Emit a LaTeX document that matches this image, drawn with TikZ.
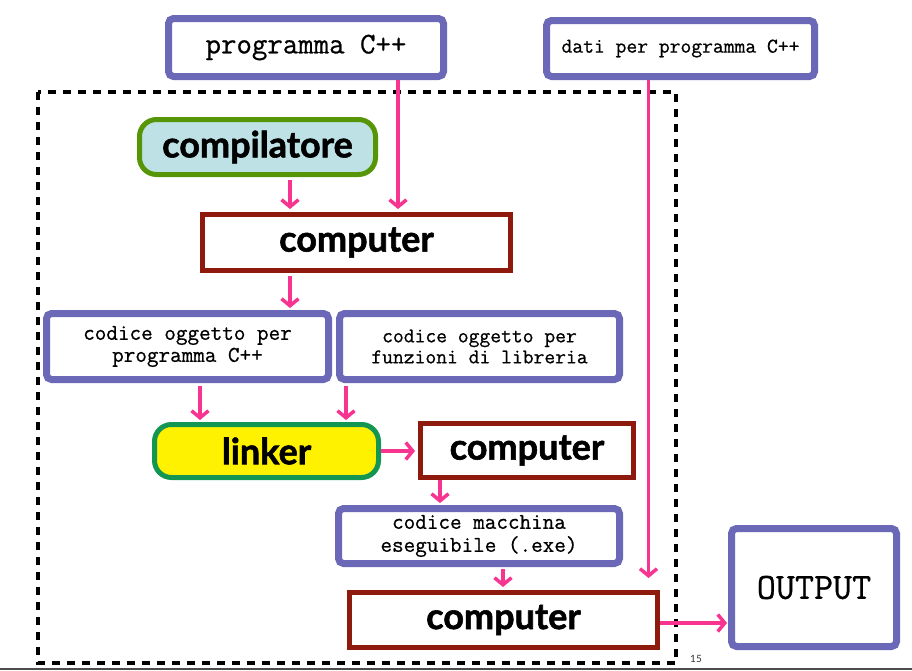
\documentclass[tikz,border=0pt]{standalone}
\usepackage{fontspec}
\usepackage{tikz}
\usetikzlibrary{arrows.meta}
\newfontfamily\boxsans{Lato}[BoldFeatures={FakeBold=1.6}]
\newfontfamily\boxmono{Latin Modern Mono}[FakeBold=0.7]

\definecolor{srcpurple}{RGB}{107,104,184}
\definecolor{compred}{RGB}{142,26,14}
\definecolor{flowpink}{RGB}{247,52,143}
\definecolor{compgreen}{RGB}{86,150,6}
\definecolor{compfill}{RGB}{189,225,229}
\definecolor{linkgreen}{RGB}{18,150,82}

\begin{document}
\begin{tikzpicture}[x=1pt, y=-1pt,
    srcbox/.style={draw=srcpurple, line width=7pt, rounded corners=5pt, fill=white, align=center, inner sep=0pt},
    compbox/.style={draw=compred, line width=5pt, fill=white, inner sep=0pt, font=\boxsans\bfseries\fontsize{36}{36}\selectfont},
    toolbox/.style={line width=5pt, rounded corners=17pt, inner sep=0pt, font=\boxsans\bfseries\fontsize{36}{36}\selectfont},
    flow/.style={draw=flowpink, line width=3.5pt, -{Straight Barb[length=7pt, width=17pt]}}]

        \useasboundingbox (0,0) rectangle (912,670);

        % Dashed frame round the translation steps
        \draw[line width=4pt, dash pattern=on 8pt off 7pt] (38,92) rectangle (676,663);
        \draw[black!70, line width=1.5pt] (0,669) -- (912,669);

        % Inputs
        \node[srcbox, minimum width=275pt, minimum height=58pt, font=\boxmono\fontsize{30}{30}\selectfont] (prog) at (306,47.5) {programma C++};
        \node[srcbox, minimum width=268pt, minimum height=56pt, font=\boxmono\fontsize{21}{21}\selectfont] (dati) at (680.5,48.5) {dati per programma C++};

        % Compile step
        \node[toolbox, draw=compgreen, fill=compfill, minimum width=236pt, minimum height=55pt] (compil) at (257.5,147) {compilatore};
        \node[compbox, minimum width=308pt, minimum height=56pt] (comp1) at (356.5,242.5) {computer};

        % Object code
        \node[srcbox, minimum width=282pt, minimum height=66pt, font=\boxmono\fontsize{22.5}{22}\selectfont] (objprog) at (187.5,346.5) {codice oggetto per\\programma C++};
        \node[srcbox, minimum width=280pt, minimum height=66pt, font=\boxmono\fontsize{21}{21}\selectfont] (objlib) at (479.5,346.5) {codice oggetto per\\funzioni di libreria};

        % Link step
        \node[toolbox, draw=linkgreen, fill=yellow, minimum width=224pt, minimum height=53pt] (linker) at (266.5,451) {linker};
        \node[compbox, minimum width=213pt, minimum height=54pt] (comp2) at (527,450.5) {computer};

        % Executable and run
        \node[srcbox, minimum width=281pt, minimum height=55pt, font=\boxmono\fontsize{22.5}{23}\selectfont] (exe) at (479,536) {codice macchina\\eseguibile (.exe)};
        \node[compbox, minimum width=308pt, minimum height=55pt] (comp3) at (503.5,620) {computer};
        \node[srcbox, minimum width=165pt, minimum height=118pt, font=\boxmono\fontsize{37}{37}\selectfont] (output) at (814,587.5) {OUTPUT};

        \node[font=\boxsans\fontsize{10}{10}\selectfont, text=black!80] (page) at (696,659) {15};

        % Connectors
        \draw[flow, shorten >=3pt] ([xshift=92pt]prog.south) -- ([xshift=92pt]prog.south |- comp1.north);
        \draw[flow, shorten <=3pt, shorten >=3pt] ([xshift=32.5pt]compil.south) -- ([xshift=32.5pt]compil.south |- comp1.north);
        \draw[flow, shorten <=3pt, shorten >=2pt] ([xshift=-66.5pt]comp1.south) -- ([xshift=-66.5pt]comp1.south |- objprog.north);
        \draw[flow, shorten <=3pt, shorten >=2pt] ([xshift=12.5pt]objprog.south) -- ([xshift=12.5pt]objprog.south |- linker.north);
        \draw[flow, shorten <=3pt, shorten >=2pt] ([xshift=-133.5pt]objlib.south) -- ([xshift=-133.5pt]objlib.south |- linker.north);
        \draw[flow, shorten >=3pt] (linker.east) -- (linker.east -| comp2.west);
        \draw[flow, shorten >=2pt] ([xshift=-87pt]comp2.south) -- ([xshift=-87pt]comp2.south |- exe.north);
        \draw[flow, shorten <=2pt, shorten >=3pt] ([xshift=24pt]exe.south) -- ([xshift=24pt]exe.south |- comp3.north);
        \draw[flow, shorten >=12pt] ([xshift=-32pt]dati.south) -- ([xshift=-32pt]dati.south |- comp3.north);
        \draw[flow, shorten >=1pt] ([yshift=-3pt]comp3.east) -- ([yshift=-3pt]comp3.east -| output.west);

\end{tikzpicture}
\end{document}
